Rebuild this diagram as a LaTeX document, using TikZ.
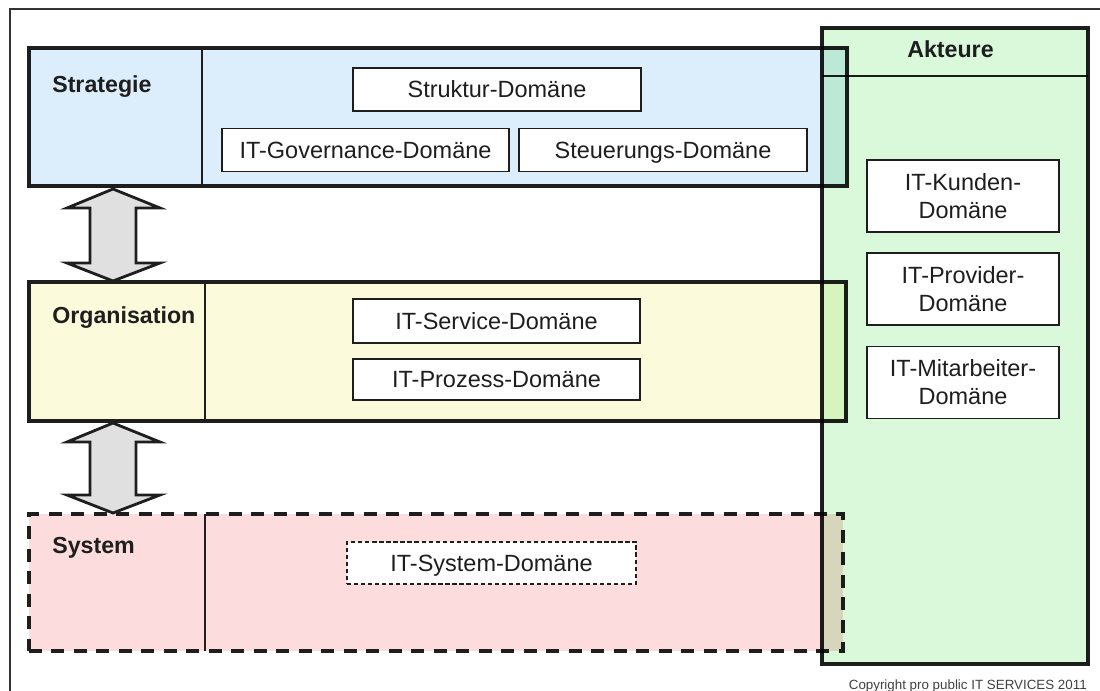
\documentclass[tikz,border=0pt]{standalone}
\usepackage{fontspec}
\setmainfont{Liberation Sans}
\usetikzlibrary{positioning}
\usetikzlibrary{fit}
\definecolor{StratBlue}{HTML}{DCEEFB}
\definecolor{OrgaYellow}{HTML}{FBFBDC}
\definecolor{SysPink}{HTML}{FCDCDC}
\definecolor{ActGreen}{HTML}{DAF9DA}
\definecolor{ArrowGray}{HTML}{E0E0E0}
\definecolor{InkBlack}{HTML}{1E1E1E}
\tikzset{
  layerbox/.style={draw=InkBlack, line width=2.6pt, inner sep=0pt},
  domainbox/.style={draw=InkBlack, fill=white, line width=1.2pt, inner sep=0pt,
    align=center, text=InkBlack, font=\fontsize{16.7}{19.9}\selectfont},
  oneline/.style={text height=12pt, text depth=0pt},
  layerlabel/.style={anchor=base west, inner sep=0pt, text=InkBlack,
    font=\fontsize{16.5}{19}\selectfont\bfseries},
  divider/.style={draw=InkBlack, line width=1.2pt},
  updown/.style={draw=InkBlack, fill=ArrowGray, line width=2pt, line join=miter}
}

\begin{document}
\begin{tikzpicture}[x=0.025cm, y=-0.025cm]
  \useasboundingbox (0,0) rectangle (1100,691);
  \draw[line width=1pt, black!80] (10,691) |- (1100,9);

  % layers
  \node[layerbox, fill=StratBlue, fit={(29,48) (847,186)}] (strat) {};
  \node[layerbox, fill=OrgaYellow, fit={(29,282) (846,421)}] (orga) {};
  \node[layerbox, fill=SysPink, dash pattern=on 9pt off 7pt,
    fit={(29,514) (843,651)}] (syst) {};

  \draw[divider] (202,48) -- (202,186);
  \draw[divider] (205,282) -- (205,421);
  \draw[divider] (205,514) -- (205,651);

  \node[layerlabel] (stratlabel) at (52,92) {Strategie};
  \node[layerlabel] (orgalabel) at (52,323) {Organisation};
  \node[layerlabel] (systlabel) at (52,553) {System};

  % arrows between the layers
  \foreach \ya/\yb in {189/281,423/513}{%
    \draw[updown] (113,\ya) -- (160,\ya+19) -- (136,\ya+19) -- (136,\yb-18)
      -- (160,\yb-18) -- (113,\yb) -- (67,\yb-18) -- (90,\yb-18)
      -- (90,\ya+19) -- (67,\ya+19) -- cycle;
  }

  % actors
  \begin{scope}[blend mode=multiply]
    \node[layerbox, line width=2.2pt, fill=ActGreen,
      fit={(822,28) (1088,664)}] (actors) {};
    \draw[divider] (822,76) -- (1088,76);
  \end{scope}
  \node[layerlabel] (actlabel) at (907,57) {Akteure};

  % domains
  \node[domainbox, oneline, minimum width=7.2cm, minimum height=1.075cm]
    (struktur) at (497,89.5) {Struktur-Domäne};
  \node[domainbox, oneline, minimum width=7.175cm, minimum height=1.075cm]
    (governance) at (365.5,150) {IT-Governance-Domäne};
  \node[domainbox, oneline, minimum width=7.2cm, minimum height=1.075cm]
    (steuerung) at (663,150) {Steuerungs-Domäne};
  \node[domainbox, oneline, minimum width=7.175cm, minimum height=1.1cm]
    (service) at (496.5,321) {IT-Service-Domäne};
  \node[domainbox, oneline, minimum width=7.175cm, minimum height=1.025cm]
    (prozess) at (496.5,379.5) {IT-Prozess-Domäne};
  \node[domainbox, oneline, line width=0.9pt, dash pattern=on 3pt off 2pt,
    minimum width=7.225cm, minimum height=1.05cm]
    (system) at (491.5,563) {IT-System-Domäne};

  \node[domainbox, minimum width=4.8cm, minimum height=1.8cm]
    (kunden) at (963,196) {IT-Kunden-\\Domäne};
  \node[domainbox, minimum width=4.8cm, minimum height=1.8cm,
    below=0.475cm of kunden] (provider) {IT-Provider-\\Domäne};
  \node[domainbox, minimum width=4.8cm, minimum height=1.8cm,
    below=0.5cm of provider] (mitarbeiter) {IT-Mitarbeiter-\\Domäne};

  \node[anchor=base east, inner sep=0pt, text=black!75,
    font=\fontsize{9.5}{11}\selectfont] (copyright) at (1087,689)
    {Copyright pro public IT SERVICES 2011};
\end{tikzpicture}
\end{document}
